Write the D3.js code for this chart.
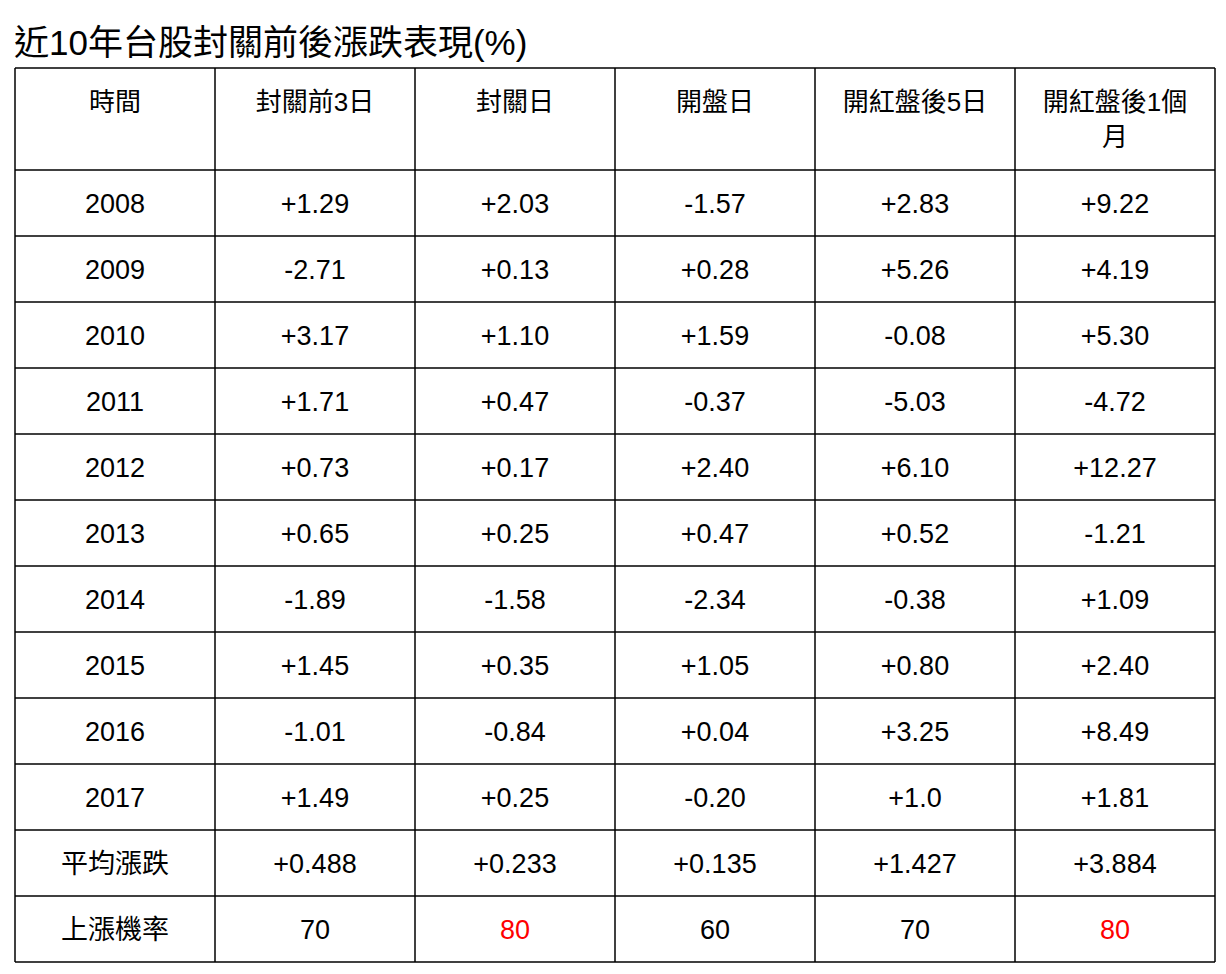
<!DOCTYPE html>
<html><head><meta charset="utf-8">
<script src="https://cdn.jsdelivr.net/npm/d3@7"></script>
<style>body{margin:0;background:#fff}</style>
</head><body><svg width="1226" height="974"></svg>
<script>
// table contents
const title = "近10年台股封關前後漲跌表現(%)"
const headers = [["時間"], ["封關前3日"], ["封關日"], ["開盤日"], ["開紅盤後5日"], ["開紅盤後1個", "月"]]
const years = ["2008","2009","2010","2011","2012","2013","2014","2015","2016","2017"]
const before3 = ["+1.29","-2.71","+3.17","+1.71","+0.73","+0.65","-1.89","+1.45","-1.01","+1.49"]
const closeDay = ["+2.03","+0.13","+1.10","+0.47","+0.17","+0.25","-1.58","+0.35","-0.84","+0.25"]
const openDay = ["-1.57","+0.28","+1.59","-0.37","+2.40","+0.47","-2.34","+1.05","+0.04","-0.20"]
const after5 = ["+2.83","+5.26","-0.08","-5.03","+6.10","+0.52","-0.38","+0.80","+3.25","+1.0"]
const after1m = ["+9.22","+4.19","+5.30","-4.72","+12.27","-1.21","+1.09","+2.40","+8.49","+1.81"]
const avgRow = ["平均漲跌","+0.488","+0.233","+0.135","+1.427","+3.884"]
const probRow = ["上漲機率","70","80","60","70","80"]
const highlight = ["80"]

const rows = years.map((y, i) => [y, before3[i], closeDay[i], openDay[i], after5[i], after1m[i]])
rows.push(avgRow, probRow)

const svg = d3.select("svg")
const font = "'Liberation Sans', 'Noto Sans CJK TC', Arial, sans-serif"

svg.append("text").attr("x", 14).attr("y", 55)
    .attr("font-family", font).attr("font-size", 35).text(title)

const tLeft = 15, tRight = 1215, tTop = 68, headerH = 102, rowH = 66
const x = d3.scaleBand().domain(d3.range(6)).range([tLeft, tRight])
const y = d3.scaleBand().domain(d3.range(rows.length)).range([tTop + headerH, tTop + headerH + rowH * rows.length])
const tBottom = tTop + headerH + rowH * rows.length

// header
headers.forEach((lines, c) => {
    lines.forEach((t, k) => {
        svg.append("text").attr("x", x(c) + x.bandwidth() / 2).attr("y", tTop + 43 + k * 35)
            .attr("text-anchor", "middle").attr("font-family", font).attr("font-size", 26).text(t)
    })
})

// body
rows.forEach((r, i) => {
    r.forEach((t, c) => {
        const isProb = i === rows.length - 1 && c > 0 && highlight.includes(t)
        svg.append("text").attr("x", x(c) + x.bandwidth() / 2).attr("y", y(i) + rowH / 2 + 10)
            .attr("text-anchor", "middle").attr("font-family", font).attr("font-size", 27)
            .attr("fill", isProb ? "#ff0000" : "#000").text(t)
    })
})

// grid lines
const hLines = [tTop, tTop + headerH].concat(d3.range(rows.length).map(i => y(i) + rowH))
hLines.forEach(v => svg.append("line").attr("x1", tLeft).attr("x2", tRight).attr("y1", v).attr("y2", v)
    .attr("stroke", "#000").attr("stroke-width", 1.5))
d3.range(7).map(c => c < 6 ? x(c) : tRight).forEach(v => svg.append("line")
    .attr("x1", v).attr("x2", v).attr("y1", tTop).attr("y2", tBottom)
    .attr("stroke", "#000").attr("stroke-width", 1.5))
</script></body></html>
